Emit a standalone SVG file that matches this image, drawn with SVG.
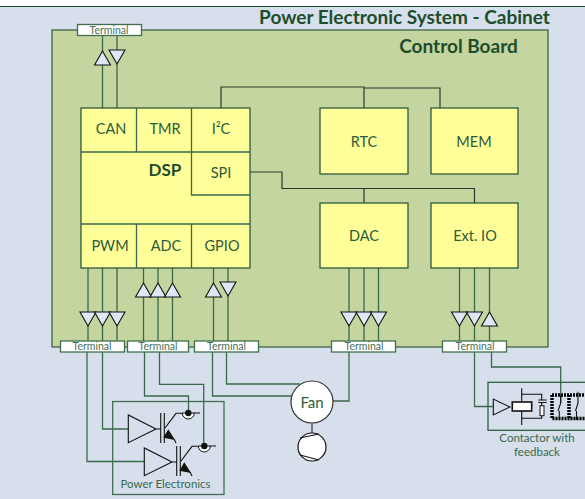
<svg xmlns="http://www.w3.org/2000/svg" width="585" height="499" viewBox="0 0 585 499">
<style>
text{font-family:"Lato","Liberation Sans",sans-serif;fill:#2f5a3c;text-anchor:middle}
.b{font-weight:700;fill:#1e4d2b}
.m{font-size:14.5px}
.t{font-size:10.500px;fill:#4a6f58}
.l{font-size:11.500px;fill:#3a6a4c}
.blk{fill:#ffff99;stroke:#2f5a3c;stroke-width:1.3}
.term{fill:#fff;stroke:#3f6f50;stroke-width:1.3}
.w{fill:none;stroke:#3a6a4c;stroke-width:1.3}
.k{fill:none;stroke:#2a3a2a;stroke-width:1.2}
.tri{fill:#dfe6f4;stroke:#111;stroke-width:1.1}
.sym{fill:none;stroke:#111;stroke-width:1.1}
</style>
<defs>
<path id="dn" class="tri" d="M-8 0H8L0 14Z"/>
<path id="up" class="tri" d="M-8 14H8L0 0Z"/>
<g id="igbt">
<path class="sym" d="M128.300 415V442.700L156 429ZM156 429H161M165 428L176 413.300H182M194 413H200"/>
<path class="sym" stroke-width="1.600" d="M160.700 413V443M164.300 413V443"/>
<path fill="#111" d="M168.300 429.300L163.300 437.700L175 440Z"/>
<path class="sym" d="M174 439L176 443"/>
<path fill="#fff" stroke="#111" d="M182.300 413A6 6 0 0 0 194.300 413Z"/>
<circle cx="188.300" cy="413" r="3.200" fill="#111"/>
</g>
</defs>
<rect width="585" height="499" fill="#fff"/>
<rect id="cabinet" x="-2" y="6.500" width="590" height="500" fill="#d6dfeb" stroke="#1e4d2b"/>
<g id="board"><rect x="52" y="30" width="496" height="317" fill="#c4d5a0" stroke="#2f5a3c" stroke-width="1.200"/></g>
<text class="b" x="404.500" y="24" font-size="19px">Power Electronic System - Cabinet</text>
<text class="b" x="458.500" y="53" font-size="19px">Control Board</text>
<g id="connectors">
<path class="w" d="M102.500 35V108M117 35V108M88 268V341M102.500 268V341M117 268V341M143.500 268V341M158 268V341M172.500 268V341M213.500 268V341M228 268V341M349 268V341M364 268V341M378.500 268V341M459.500 268V341M474.500 268V341M489.500 268V341"/>
<path class="k" d="M221 108V87H364V108M364 88H440V108M250 172H282V188.500H474.500V203M364 188.500V203"/>
<path class="w" d="M87 352V461.500H144M102.500 352V429H128M144.500 352V396H188.500V410M159.500 352V384.300H203.700V444M212.500 352V396H292M226.500 352V384H300M349 352V401H333M474.500 352V406.500H493M491.500 352V367H560.700V403"/>
<path stroke="#555" stroke-width="1.500" fill="none" d="M312 423V433"/>
</g>
<g id="triangles">
<use href="#up" x="102.500" y="51"/><use href="#dn" x="117" y="50"/>
<use href="#dn" x="88" y="312"/><use href="#dn" x="102.500" y="312"/><use href="#dn" x="117" y="312"/>
<use href="#up" x="143.500" y="283"/><use href="#up" x="158" y="283"/><use href="#up" x="172.500" y="283"/>
<use href="#up" x="213.500" y="283"/><use href="#dn" x="228" y="282"/>
<use href="#dn" x="349" y="312"/><use href="#dn" x="364" y="312"/><use href="#dn" x="378.500" y="312"/>
<use href="#dn" x="459.500" y="312"/><use href="#dn" x="474.500" y="312"/><use href="#up" x="489.500" y="312"/>
</g>
<g id="dsp">
<rect class="blk" x="81" y="108" width="169" height="160"/>
<path class="w" d="M81 152H250M81 224H250M136.500 108V152M191.500 108V195H250M136.500 224V268M191.500 224V268"/>
<text class="m" x="111" y="134">CAN</text><text class="m" x="165" y="134">TMR</text><text class="m" x="221" y="134">I²C</text>
<text class="b" x="165" y="176" font-size="17px">DSP</text><text class="m" x="221" y="178">SPI</text>
<text class="m" x="110" y="251">PWM</text><text class="m" x="166" y="251">ADC</text><text class="m" x="222" y="251">GPIO</text>
</g>
<g id="rtc"><rect class="blk" x="320" y="108" width="88" height="66"/><text class="m" x="364" y="147">RTC</text></g>
<g id="mem"><rect class="blk" x="431" y="108" width="87" height="66"/><text class="m" x="474" y="147">MEM</text></g>
<g id="dac"><rect class="blk" x="320" y="203" width="88" height="65"/><text class="m" x="364" y="241">DAC</text></g>
<g id="extio"><rect class="blk" x="431" y="203" width="87" height="65"/><text class="m" x="475" y="241">Ext. IO</text></g>
<g id="terminals">
<g id="t0"><rect class="term" x="77.500" y="24.500" width="64" height="11"/><text class="t" x="109" y="33.500">Terminal</text></g>
<g id="t1"><rect class="term" x="60.500" y="341" width="64" height="11"/><text class="t" x="92" y="350">Terminal</text></g>
<g id="t2"><rect class="term" x="127.500" y="341" width="61" height="11"/><text class="t" x="158" y="350">Terminal</text></g>
<g id="t3"><rect class="term" x="194.500" y="341" width="64" height="11"/><text class="t" x="226.500" y="350">Terminal</text></g>
<g id="t4"><rect class="term" x="331.500" y="341" width="64" height="11"/><text class="t" x="364" y="350">Terminal</text></g>
<g id="t5"><rect class="term" x="442.500" y="341" width="64" height="11"/><text class="t" x="475" y="350">Terminal</text></g>
</g>
<g id="fan"><circle cx="312" cy="402" r="21" fill="#fff" stroke="#333" stroke-width="1.200"/><text x="312" y="408" font-size="15px">Fan</text>
<circle cx="312" cy="447" r="14" fill="#fff" stroke="#111" stroke-width="1.200"/><path class="sym" d="M300 438L319 434M300 455L319 460"/></g>
<g id="power"><rect x="112.700" y="401.500" width="111.300" height="93" fill="none" stroke="#3f6f50" stroke-width="1.300"/>
<use href="#igbt"/><use href="#igbt" x="16" y="33"/>
<text class="l" x="165.500" y="488">Power Electronics</text></g>
<g id="contactor"><rect x="488" y="382.300" width="99" height="48" fill="none" stroke="#2f6040" stroke-width="1.300"/>
<path class="sym" d="M493.300 399V415L510 407ZM521.700 388.300V425M522 394.300H541.700V400M538.300 400H546.700M538.300 402.500H546.700M541.700 402.500V405.700M541.700 415.700V418.300H522"/>
<rect x="540" y="405.700" width="4" height="10" fill="#fff" stroke="#111"/>
<rect x="512.300" y="402" width="19.400" height="9" fill="#fff" stroke="#111" stroke-width="1.600"/>
<path fill="none" stroke="#000" stroke-width="3.500" stroke-dasharray="2 1" d="M552 395V418.500H590M552 395H590M569 395V418.500"/>
<path class="sym" d="M560.700 395V403L558 411M559.300 411V420M578 391.700V403L575.500 411M576.500 411V420"/>
<text class="l" x="537" y="442">Contactor with</text><text class="l" x="537" y="455.500">feedback</text></g>
</svg>
